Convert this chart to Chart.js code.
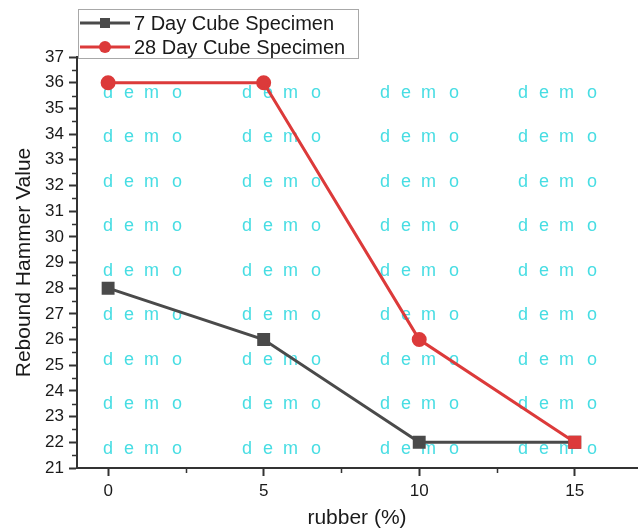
<!DOCTYPE html>
<html>
<head>
<meta charset="utf-8">
<script src="https://cdn.jsdelivr.net/npm/chart.js@4.4.1/dist/chart.umd.min.js"></script>
<style>
  html, body { margin: 0; padding: 0; background: #fff; overflow: hidden; }
  canvas { display: block; }
</style>
</head>
<body>
<canvas id="c" width="638" height="531"></canvas>
<script>
// --- data ---
const rubberPct = [0, 5, 10, 15];
const day7 = [28, 26, 22, 22];
const day28 = [36, 36, 26, 22];
const xTicks = [0, 5, 10, 15];
const yTicks = [21, 22, 23, 24, 25, 26, 27, 28, 29, 30, 31, 32, 33, 34, 35, 36, 37];
const seriesLabels = ['7 Day Cube Specimen', '28 Day Cube Specimen'];

const FONT = '"Liberation Sans", Arial, sans-serif';
const GRAY = '#4a4a4a', RED = '#dc3a3a', AXIS = '#333333';

// watermark "demo" grid, drawn behind the lines
const demoPlugin = {
    id: 'demo',
    beforeDatasetsDraw(chart) {
        const ctx = chart.ctx;
        const cols = [103, 242, 380, 518], rows = [93, 137.5, 182, 226.5, 271, 315.5, 360, 404.5, 449];
        const letters = ['d', 'e', 'm', 'o'], offs = [0, 21, 41, 69];
        ctx.save();
        ctx.font = '18px ' + FONT;
        ctx.fillStyle = '#47dde3';
        ctx.textBaseline = 'middle';
        rows.forEach(y => cols.forEach(x => letters.forEach((l, i) => ctx.fillText(l, x + offs[i], y))));
        ctx.restore();
    }
};

// minor ticks + legend box
const extrasPlugin = {
    id: 'extras',
    afterDraw(chart) {
        const ctx = chart.ctx, xs = chart.scales.x, ys = chart.scales.y;
        ctx.save();
        ctx.strokeStyle = AXIS; ctx.lineWidth = 1.5;
        ctx.beginPath();
        for (let v = 21.5; v < 37; v += 1) {
            const py = Math.round(ys.getPixelForValue(v)) + 0.5;
            ctx.moveTo(ys.right - 5, py); ctx.lineTo(ys.right, py);
        }
        [2.5, 7.5, 12.5].forEach(v => {
            const px = Math.round(xs.getPixelForValue(v)) + 0.5;
            ctx.moveTo(px, xs.top); ctx.lineTo(px, xs.top + 5);
        });
        ctx.stroke();

        // legend
        ctx.fillStyle = '#fff';
        ctx.fillRect(78, 9, 281, 50);
        ctx.strokeStyle = '#a8a8a8'; ctx.lineWidth = 1;
        ctx.strokeRect(78.5, 9.5, 280, 49);
        const items = [
            { label: seriesLabels[0], color: GRAY, style: 'rect', y: 23 },
            { label: seriesLabels[1], color: RED, style: 'circle', y: 47 }
        ];
        items.forEach(it => {
            ctx.strokeStyle = it.color; ctx.lineWidth = 3;
            ctx.beginPath(); ctx.moveTo(80, it.y); ctx.lineTo(130, it.y); ctx.stroke();
            ctx.fillStyle = it.color;
            if (it.style === 'rect') ctx.fillRect(100, it.y - 5, 10, 10);
            else { ctx.beginPath(); ctx.arc(105, it.y, 6, 0, Math.PI * 2); ctx.fill(); }
            ctx.fillStyle = '#1a1a1a';
            ctx.font = '20px ' + FONT;
            ctx.textBaseline = 'middle';
            ctx.fillText(it.label, 134, it.y + 1);
        });
        ctx.restore();
    }
};

new Chart(document.getElementById('c'), {
    type: 'line',
    data: {
        datasets: [
            {
                label: seriesLabels[0],
                data: rubberPct.map((x, i) => ({ x: x, y: day7[i] })),
                borderColor: GRAY, backgroundColor: GRAY, borderWidth: 3,
                pointStyle: 'rect', pointRadius: 7, pointHoverRadius: 7,
                tension: 0, order: 1
            },
            {
                label: seriesLabels[1],
                data: rubberPct.map((x, i) => ({ x: x, y: day28[i] })),
                borderColor: RED, backgroundColor: RED, borderWidth: 3,
                pointStyle: ['circle', 'circle', 'circle', 'rect'], pointRadius: [6, 6, 6, 7], pointHoverRadius: 7,
                tension: 0, order: 0
            }
        ]
    },
    options: {
        responsive: false, animation: false,
        layout: { autoPadding: false, padding: { top: 57, right: 1, left: 0, bottom: 0 } },
        plugins: { legend: { display: false }, tooltip: { enabled: false } },
        scales: {
            x: {
                type: 'linear', min: -1, max: 17,
                afterBuildTicks: s => { s.ticks = xTicks.map(v => ({ value: v })); },
                afterFit: s => { s.height = 63; s.paddingLeft = 0; s.paddingRight = 0; },
                border: { display: true, color: AXIS, width: 2 },
                grid: { display: true, drawOnChartArea: false, drawTicks: true, tickLength: 8, tickWidth: 2, tickColor: AXIS },
                ticks: { color: '#1a1a1a', font: { family: FONT, size: 17 }, padding: 5, maxRotation: 0 },
                title: { display: true, text: 'rubber (%)', color: '#1a1a1a', font: { family: FONT, size: 21 }, padding: { top: 0, bottom: 0 } }
            },
            y: {
                type: 'linear', min: 21, max: 37,
                afterBuildTicks: s => { s.ticks = yTicks.map(v => ({ value: v })); },
                afterFit: s => { s.width = 77; s.paddingTop = 0; s.paddingBottom = 0; },
                border: { display: true, color: AXIS, width: 2 },
                grid: { display: true, drawOnChartArea: false, drawTicks: true, tickLength: 8, tickWidth: 2, tickColor: AXIS },
                ticks: { color: '#1a1a1a', font: { family: FONT, size: 17 }, padding: 5 },
                title: { display: true, text: 'Rebound Hammer Value', color: '#1a1a1a', font: { family: FONT, size: 21 }, padding: { top: 12, bottom: 0 } }
            }
        }
    },
    plugins: [demoPlugin, extrasPlugin]
});
</script>
</body>
</html>
